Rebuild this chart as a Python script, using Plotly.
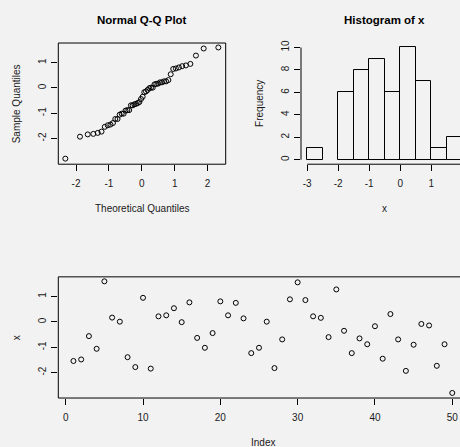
import plotly.graph_objects as go
from statistics import NormalDist

# ---- data ----
index = list(range(1, 51))
x_values = [-1.54, -1.48, -0.56, -1.06, 1.60, 0.17, 0.01, -1.39, -1.78, 0.95,
            -1.84, 0.22, 0.26, 0.54, -0.01, 0.77, -0.63, -1.02, -0.44, 0.81,
            0.26, 0.75, 0.14, -1.23, -1.02, 0.01, -1.82, -0.69, 0.89, 1.56,
            0.86, 0.22, 0.16, -0.60, 1.28, -0.35, -1.23, -0.65, -0.88, -0.17,
            -1.45, 0.31, -0.69, -1.93, -0.90, -0.08, -0.14, -1.73, -0.88, -2.80]
qq_xticks = [-2, -1, 0, 1, 2]
qq_yticks = [-2, -1, 0, 1]
hist_xticks = [-3, -2, -1, 0, 1, 2]
hist_yticks = [0, 2, 4, 6, 8, 10]
idx_xticks = [0, 10, 20, 30, 40, 50]
idx_yticks = [-2, -1, 0, 1]

# Q-Q transform (R: qqnorm uses ppoints)
n = len(x_values)
sample_q = sorted(x_values)
theo_q = [NormalDist().inv_cdf((i - 0.5) / n) for i in range(1, n + 1)]

W, H = 460, 447
BG = "#f2f2f2"
FONT = "Liberation Sans, Arial, sans-serif"
TXT = "#1a1a1a"


def fx(p):
    return p / W


def fy(p):
    return 1 - p / H


def labels(vals):
    return [str(v) for v in vals]  # R style hyphen-minus


marker = dict(symbol="circle-open", size=5, color="black", line=dict(width=1))

fig = go.Figure()
fig.add_trace(go.Scatter(x=theo_q, y=sample_q, mode="markers", marker=marker,
                         xaxis="x", yaxis="y", hoverinfo="skip"))
fig.add_trace(go.Histogram(x=x_values, xbins=dict(start=-3, end=2, size=0.5),
                           marker=dict(color="rgba(0,0,0,0)",
                                       line=dict(color="black", width=1)),
                           xaxis="x2", yaxis="y2", hoverinfo="skip"))
fig.add_trace(go.Scatter(x=index, y=x_values, mode="markers", marker=marker,
                         xaxis="x3", yaxis="y3", hoverinfo="skip"))

tickfont = dict(family=FONT, size=10, color=TXT)
common = dict(showgrid=False, zeroline=False, showline=False, ticks="outside",
              ticklen=6, tickwidth=1, tickcolor="black", tickfont=tickfont,
              fixedrange=True)
xcommon = dict(common, ticklabelstandoff=4)
ycommon = dict(common, tickangle=-90, ticklabelstandoff=1)

fig.update_layout(
    width=W, height=H, margin=dict(l=0, r=0, t=0, b=0),
    paper_bgcolor=BG, plot_bgcolor=BG, showlegend=False, bargap=0,
    xaxis=dict(domain=[fx(58.3), fx(225.7)], range=[-2.54, 2.55],
               tickvals=qq_xticks, ticktext=labels(qq_xticks), anchor="y", **xcommon),
    yaxis=dict(domain=[fy(162.3), fy(40.3)], range=[-3.02, 1.776],
               tickvals=qq_yticks, ticktext=labels(qq_yticks), anchor="x", **ycommon),
    xaxis2=dict(domain=[fx(301), 1.0], range=[-3.2, 1.929],
                tickvals=hist_xticks, ticktext=labels(hist_xticks), anchor="y2", **xcommon),
    yaxis2=dict(domain=[fy(162.3), fy(40.3)], range=[-0.4, 10.4],
                tickvals=hist_yticks, ticktext=labels(hist_yticks), anchor="x2", **ycommon),
    xaxis3=dict(domain=[fx(58.3), 1.0], range=[-0.96, 51.0],
                tickvals=idx_xticks, ticktext=labels(idx_xticks), anchor="y3", **xcommon),
    yaxis3=dict(domain=[fy(397.7), fy(275.7)], range=[-3.0, 1.776],
                tickvals=idx_yticks, ticktext=labels(idx_yticks), anchor="x3", **ycommon),
)

line = dict(color="black", width=1)
shapes = [
    # box around Q-Q plot
    dict(type="rect", xref="x domain", yref="y domain", x0=0, x1=1, y0=0, y1=1,
         line=line, fillcolor="rgba(0,0,0,0)"),
    # box around index plot (extends past the right edge, clipped)
    dict(type="rect", xref="x3 domain", yref="y3 domain", x0=0, x1=1.018, y0=0, y1=1,
         line=line, fillcolor="rgba(0,0,0,0)"),
    # histogram axis lines spanning the tick range
    dict(type="line", xref="x2", yref="y2 domain", x0=min(hist_xticks), x1=max(hist_xticks),
         y0=0, y1=0, line=line),
    dict(type="line", xref="x2 domain", yref="y2", x0=0, x1=0,
         y0=min(hist_yticks), y1=max(hist_yticks), line=line),
]
fig.update_layout(shapes=shapes)


def ann(text, x, y, size=10, bold=False, angle=0):
    return dict(text=("<b>%s</b>" % text) if bold else text, x=fx(x), y=fy(y),
                xref="paper", yref="paper", xanchor="center", yanchor="middle",
                showarrow=False, textangle=angle,
                font=dict(family=FONT, size=size, color="black" if bold else TXT))


fig.update_layout(annotations=[
    ann("Normal Q-Q Plot", 142, 16.7, size=11.5, bold=True),
    ann("Histogram of x", 384.5, 16.7, size=11.5, bold=True),
    ann("Theoretical Quantiles", 142, 206.7),
    ann("Sample Quantiles", 16.7, 101.3, angle=-90),
    ann("x", 384.5, 206.7),
    ann("Frequency", 259.3, 101.3, angle=-90),
    ann("x", 16.7, 336.7, angle=-90),
    ann("Index", 262.8, 442.8),
])

fig.write_html("out.html")
